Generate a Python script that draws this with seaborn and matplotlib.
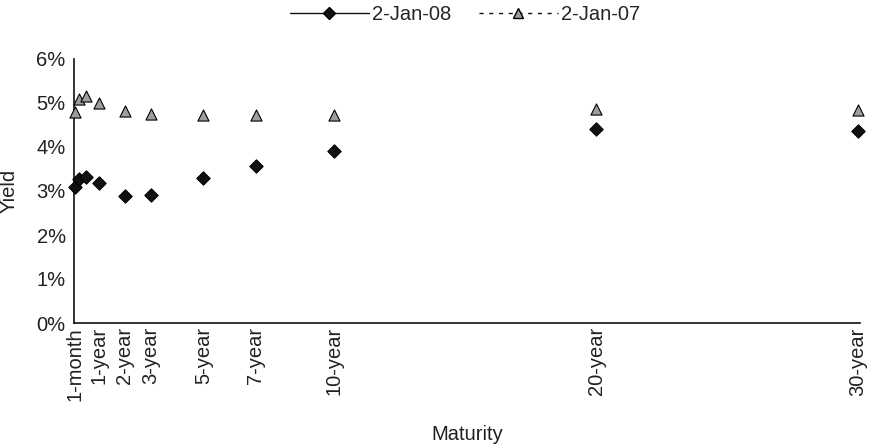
import numpy as np
import pandas as pd
import matplotlib
matplotlib.use("Agg")
import matplotlib.pyplot as plt
from matplotlib.lines import Line2D
from matplotlib.ticker import PercentFormatter
import seaborn as sns

# Treasury yield curve data (maturity in years, yields in percent)
maturity_years = [1/12, 0.25, 0.5, 1, 2, 3, 5, 7, 10, 20, 30]
yield_2008 = [3.10, 3.27, 3.32, 3.18, 2.89, 2.90, 3.29, 3.56, 3.92, 4.41, 4.37]
yield_2007 = [4.80, 5.10, 5.15, 5.01, 4.82, 4.75, 4.72, 4.72, 4.72, 4.86, 4.83]

tick_positions = [1/12, 1, 2, 3, 5, 7, 10, 20, 30]
tick_labels = ["1-month", "1-year", "2-year", "3-year", "5-year",
               "7-year", "10-year", "20-year", "30-year"]

series_names = ["2-Jan-08", "2-Jan-07"]

df = pd.DataFrame({
    "maturity": maturity_years * 2,
    "yield": yield_2008 + yield_2007,
    "date": [series_names[0]] * len(yield_2008) + [series_names[1]] * len(yield_2007),
})

sns.set_theme(style="white")
plt.rcParams["font.family"] = ["Liberation Sans", "DejaVu Sans"]

fig = plt.figure(figsize=(8.69, 4.44), dpi=100)
ax = fig.add_axes([74 / 869, 1 - 323 / 444, (860 - 74) / 869, (323 - 59) / 444])

palette = {series_names[0]: "#111111", series_names[1]: "#9e9e9e"}
markers = {series_names[0]: "D", series_names[1]: "^"}
sizes_map = {series_names[0]: 46, series_names[1]: 64}

for name in series_names:
    sub = df[df["date"] == name]
    sns.scatterplot(data=sub, x="maturity", y="yield", ax=ax,
                    color=palette[name], marker=markers[name],
                    s=sizes_map[name], edgecolor="black", linewidth=0.8,
                    legend=False, zorder=3, clip_on=False)

ax.set_xlim(0.06, 30.08)
ax.set_ylim(0, 6)
ax.set_yticks(np.arange(0, 7, 1))
ax.yaxis.set_major_formatter(PercentFormatter(decimals=0))
ax.set_xticks(tick_positions)
ax.set_xticklabels(tick_labels, rotation=90)
ax.tick_params(axis="both", length=0, labelsize=14.5, colors="#222222")
ax.tick_params(axis="y", pad=6)
ax.tick_params(axis="x", pad=3)

for side in ["top", "right"]:
    ax.spines[side].set_visible(False)
for side in ["left", "bottom"]:
    ax.spines[side].set_color("#111111")
    ax.spines[side].set_linewidth(1.2)

ax.set_xlabel("Maturity", fontsize=14.5, color="#222222")
ax.set_ylabel("Yield", fontsize=14.5, color="#222222")
ax.xaxis.set_label_coords(0.5, -0.385)
ax.yaxis.set_label_coords(-0.071, 0.5)
ax.grid(False)

handles = [
    Line2D([0], [0], color="#111111", lw=1.0, ls="-", marker="D",
           markersize=6.5, markerfacecolor="#111111", markeredgecolor="black"),
    Line2D([0], [0], color="#111111", lw=1.0, ls=(0, (3, 4)), marker="^",
           markersize=7.5, markerfacecolor="#9e9e9e", markeredgecolor="black"),
]
fig.legend(handles, series_names, loc="center", bbox_to_anchor=(465 / 869, 1 - 15 / 444),
           ncol=2, frameon=False, fontsize=14.5, handlelength=3.9,
           handletextpad=0.15, columnspacing=1.4)

fig.savefig("out.png", dpi=100)
